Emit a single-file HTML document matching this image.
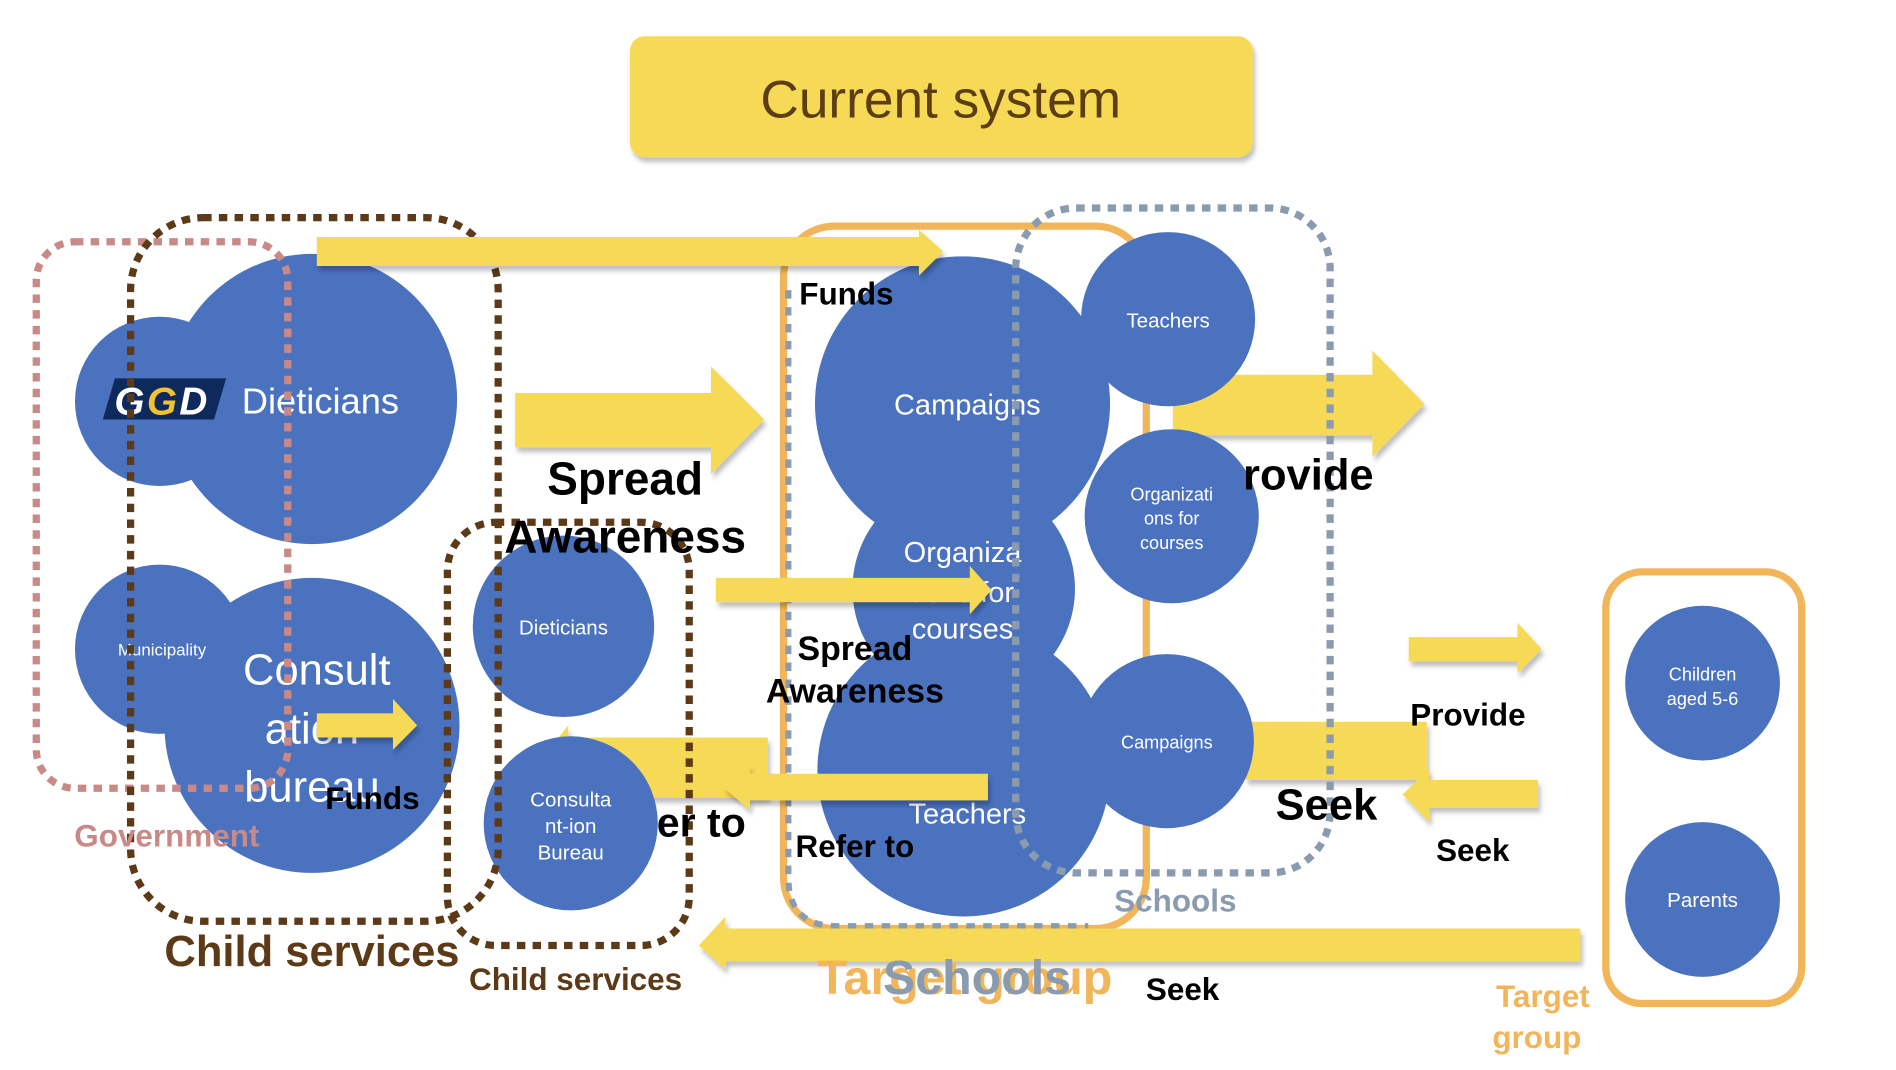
<!DOCTYPE html>
<html><head><meta charset="utf-8"><style>
html,body{margin:0;padding:0;background:#fff;}
svg{display:block;}
text{font-family:"Liberation Sans",sans-serif;}
</style></head><body>
<svg width="1896" height="1070" viewBox="0 0 1568 885" preserveAspectRatio="none" xmlns="http://www.w3.org/2000/svg">
<defs>
<filter id="sh" x="-10%" y="-10%" width="130%" height="140%"><feDropShadow dx="2" dy="4" stdDeviation="2" flood-color="#000" flood-opacity="0.25"/></filter>
</defs>
<rect width="1568" height="885" fill="#fff"/>
<!-- title -->
<rect x="521" y="30" width="515" height="100" rx="12" fill="#F6DA56" filter="url(#sh)"/>
<text x="778" y="97" font-size="44" fill="#5C3D14" text-anchor="middle">Current system</text>

<rect x="648" y="187" width="300" height="581" rx="42" fill="none" stroke="#F2B55A" stroke-width="6"/>

<!-- arrows behind circles -->
<g fill="#F6DA56" filter="url(#sh)">
<polygon points="635,610 470,610 470,600 450,625 470,650 470,660 635,660"/>
<polygon points="970,310 1135,310 1135,290 1178,334 1135,378 1135,360 970,360"/>
<rect x="1030" y="597" width="150" height="48"/>
</g>

<!-- circles -->
<g fill="#4A72BF">
<circle cx="258" cy="330" r="120"/>
<circle cx="132" cy="332" r="70"/>
<circle cx="258" cy="600" r="122"/>
<circle cx="132" cy="537" r="70"/>
<circle cx="466" cy="518" r="75"/>
<circle cx="472" cy="681" r="72"/>
<circle cx="796" cy="334" r="122"/>
<circle cx="797" cy="487" r="92"/>
<circle cx="797" cy="637" r="121"/>
<circle cx="966" cy="264" r="72"/>
<circle cx="969" cy="427" r="72"/>
<circle cx="965" cy="613" r="72"/>
<circle cx="1408" cy="565" r="64"/>
<circle cx="1408" cy="744" r="64"/>
</g>
<g fill="#fff" text-anchor="middle">
<text x="265" y="342" font-size="30">Dieticians</text>
<text x="134" y="542" font-size="14">Municipality</text>
<text x="262" y="566" font-size="36">Consult</text>
<text x="258" y="615" font-size="36">ation</text>
<text x="258" y="663" font-size="36">bureau</text>
<text x="466" y="525" font-size="17">Dieticians</text>
<text x="472" y="667" font-size="17">Consulta</text>
<text x="472" y="689" font-size="17">nt-ion</text>
<text x="472" y="711" font-size="17">Bureau</text>
<text x="800" y="343" font-size="24">Campaigns</text>
<text x="796" y="465" font-size="24">Organiza</text>
<text x="796" y="498" font-size="24">tions for</text>
<text x="796" y="528" font-size="24">courses</text>
<text x="800" y="681" font-size="24">Teachers</text>
<text x="966" y="271" font-size="17">Teachers</text>
<text x="969" y="414" font-size="15">Organizati</text>
<text x="969" y="434" font-size="15">ons for</text>
<text x="969" y="454" font-size="15">courses</text>
<text x="965" y="619" font-size="15">Campaigns</text>
<text x="1408" y="563" font-size="15">Children</text>
<text x="1408" y="583" font-size="15">aged 5-6</text>
<text x="1408" y="750" font-size="17">Parents</text>
</g>
<!-- GGD logo -->
<polygon points="95,313 187,313 177,347 85,347" fill="#0E2A5C"/>
<text x="134" y="343" font-size="32" font-weight="bold" font-style="italic" fill="#fff" text-anchor="middle" letter-spacing="2">G<tspan fill="#F2C230">G</tspan>D</text>

<!-- boxes -->
<g fill="none">
<rect x="30" y="200" width="208" height="452" rx="32" stroke="#C98A87" stroke-width="6" stroke-dasharray="7,6"/>
<rect x="108" y="180" width="304" height="582" rx="60" stroke="#5C3A17" stroke-width="6" stroke-dasharray="7,6"/>
<rect x="370" y="432" width="200" height="350" rx="40" stroke="#5C3A17" stroke-width="6" stroke-dasharray="7,6"/>
<path d="M652,240 L652,726 Q652,766 692,766 L900,766" stroke="#8A9BB0" stroke-width="5" stroke-dasharray="7,7"/>
<rect x="840" y="172" width="260" height="550" rx="50" stroke="#8A9BB0" stroke-width="6" stroke-dasharray="7,6"/>
<rect x="1328" y="473" width="162" height="357" rx="30" stroke="#F2B55A" stroke-width="6"/>
</g>

<!-- arrows -->
<g fill="#F6DA56" filter="url(#sh)">
<polygon points="262,196 760,196 760,190 780,208 760,228 760,220 262,220"/>
<polygon points="426,325 588,325 588,303 632,347 588,392 588,370 426,370"/>
<polygon points="592,478 802,478 802,468 820,488 802,508 802,498 592,498"/>
<polygon points="262,590 325,590 325,578 345,600 325,620 325,610 262,610"/>
<polygon points="817,640 620,640 620,632 598,651 620,670 620,662 817,662"/>
<polygon points="1165,527 1255,527 1255,515 1275,537 1255,557 1255,547 1165,547"/>
<polygon points="1272,645 1182,645 1182,636 1160,657 1182,680 1182,668 1272,668"/>
<polygon points="1307,768 600,768 600,758 578,782 600,802 600,795 1307,795"/>
</g>

<!-- labels -->
<g font-weight="bold" text-anchor="middle" fill="#000">
<text x="700" y="252" font-size="26">Funds</text>
<text x="517" y="409" font-size="38">Spread</text>
<text x="517" y="457" font-size="38">Awareness</text>
<text x="707" y="546" font-size="28">Spread</text>
<text x="707" y="581" font-size="28">Awareness</text>
<text x="1082" y="405" font-size="36">rovide</text>
<text x="1214" y="600" font-size="26">Provide</text>
<text x="1097" y="678" font-size="36">Seek</text>
<text x="1218" y="712" font-size="26">Seek</text>
<text x="978" y="827" font-size="26">Seek</text>
<text x="707" y="709" font-size="26">Refer to</text>
<text x="580" y="692" font-size="34">er to</text>
<text x="308" y="669" font-size="26">Funds</text>
<text x="138" y="700" font-size="26" fill="#C98A87">Government</text>
<text x="258" y="799" font-size="36" fill="#5C3A17">Child services</text>
<text x="476" y="819" font-size="26" fill="#5C3A17">Child services</text>
<text x="972" y="754" font-size="26" fill="#8A9BB0">Schools</text>
<text x="798" y="822" font-size="40" fill="#F2B55A">Target group</text>
<text x="808" y="822" font-size="40" fill="#8A9BB0">Schools</text>
<text x="1276" y="833" font-size="26" fill="#F2B55A">Target</text>
<text x="1271" y="867" font-size="26" fill="#F2B55A">group</text>
</g>
</svg>
</body></html>
